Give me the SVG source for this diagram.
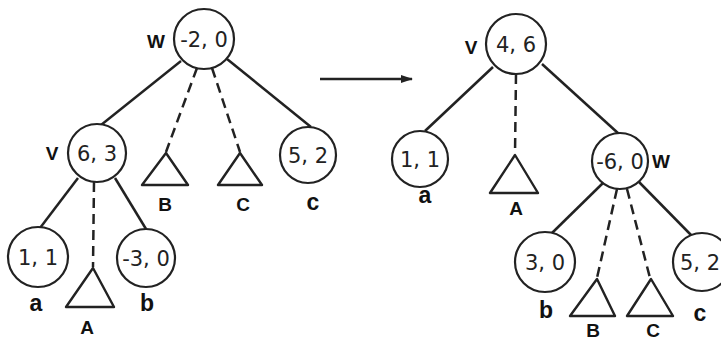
<svg xmlns="http://www.w3.org/2000/svg" width="721" height="341" viewBox="0 0 721 341">
<defs>
<marker id="ah" viewBox="0 0 12 8" refX="11" refY="4" markerWidth="12" markerHeight="8" markerUnits="userSpaceOnUse" orient="auto">
<path d="M0,0 L12,4 L0,8 z" fill="#222"/>
</marker>
<style>
.n{fill:#fff;stroke:#222;stroke-width:2.2}
.t{fill:#fff;stroke:#222;stroke-width:2.4;stroke-linejoin:round}
.e{stroke:#222;stroke-width:2.5;fill:none}
.d{stroke:#222;stroke-width:2.5;fill:none;stroke-dasharray:10 6}
.v{font-family:"DejaVu Sans",sans-serif;font-size:21px;fill:#222;text-anchor:middle}
.L{font-family:"Liberation Sans",Arial,sans-serif;font-size:19px;font-weight:bold;fill:#111;text-anchor:middle}
.l{font-family:"Liberation Sans",Arial,sans-serif;font-size:23px;font-weight:bold;fill:#111;text-anchor:middle}
</style>
</defs>
<rect width="721" height="341" fill="#fff"/>
<g id="connectors">
<line class="e" x1="181" y1="61" x2="101" y2="125"/>
<line class="d" x1="197" y1="68" x2="166" y2="152"/>
<line class="d" x1="212" y1="68" x2="240" y2="152"/>
<line class="e" x1="227" y1="59" x2="311" y2="127"/>
<line class="e" x1="78" y1="178" x2="40" y2="228"/>
<line class="d" x1="94" y1="182" x2="93" y2="267"/>
<line class="e" x1="115" y1="178" x2="146" y2="229"/>
<line class="e" x1="320" y1="79" x2="412" y2="79" marker-end="url(#ah)"/>
<line class="e" x1="493" y1="67" x2="425" y2="131"/>
<line class="d" x1="516" y1="74" x2="515" y2="154"/>
<line class="e" x1="542" y1="64" x2="619" y2="134"/>
<line class="e" x1="603" y1="183" x2="552" y2="233"/>
<line class="d" x1="617" y1="189" x2="597" y2="278"/>
<line class="d" x1="627" y1="189" x2="650" y2="278"/>
<line class="e" x1="639" y1="182" x2="693" y2="237"/>
</g>
<g id="L-W"><circle class="n" cx="204" cy="39" r="30"/><text class="v" x="204" y="47">-2, 0</text><text class="L" x="156" y="48">W</text></g>
<g id="L-V"><circle class="n" cx="97" cy="153" r="29"/><text class="v" x="97" y="161">6, 3</text><text class="L" x="52" y="160">V</text></g>
<g id="L-B"><polygon class="t" points="166,153 142,185 188,185"/><text class="L" x="165" y="211">B</text></g>
<g id="L-C"><polygon class="t" points="240,153 218,185 262,185"/><text class="L" x="243" y="211">C</text></g>
<g id="L-c"><circle class="n" cx="308" cy="155" r="28"/><text class="v" x="308" y="163">5, 2</text><text class="l" x="313" y="210">c</text></g>
<g id="L-a"><circle class="n" cx="38" cy="257" r="30"/><text class="v" x="38" y="265">1, 1</text><text class="l" x="36" y="311">a</text></g>
<g id="L-A"><polygon class="t" points="93,268 66,307 114,307"/><text class="L" x="87" y="334">A</text></g>
<g id="L-b"><circle class="n" cx="146" cy="258" r="29"/><text class="v" x="146" y="266">-3, 0</text><text class="l" x="147" y="311">b</text></g>
<g id="R-V"><circle class="n" cx="516" cy="44" r="30"/><text class="v" x="516" y="52">4, 6</text><text class="L" x="471" y="54">V</text></g>
<g id="R-a"><circle class="n" cx="420" cy="159" r="28"/><text class="v" x="420" y="167">1, 1</text><text class="l" x="425" y="203">a</text></g>
<g id="R-A"><polygon class="t" points="515,155 490,193 538,193"/><text class="L" x="516" y="215">A</text></g>
<g id="R-W"><circle class="n" cx="620" cy="161" r="28"/><text class="v" x="620" y="169">-6, 0</text><text class="L" x="661" y="168">W</text></g>
<g id="R-b"><circle class="n" cx="545" cy="262" r="30"/><text class="v" x="545" y="270">3, 0</text><text class="l" x="546" y="318">b</text></g>
<g id="R-B"><polygon class="t" points="597,279 570,316 615,316"/><text class="L" x="593" y="337">B</text></g>
<g id="R-C"><polygon class="t" points="651,279 627,316 673,316"/><text class="L" x="653" y="337">C</text></g>
<g id="R-c"><circle class="n" cx="702" cy="262" r="29"/><text class="v" x="700" y="270">5, 2</text><text class="l" x="700" y="321">c</text></g>
</svg>
